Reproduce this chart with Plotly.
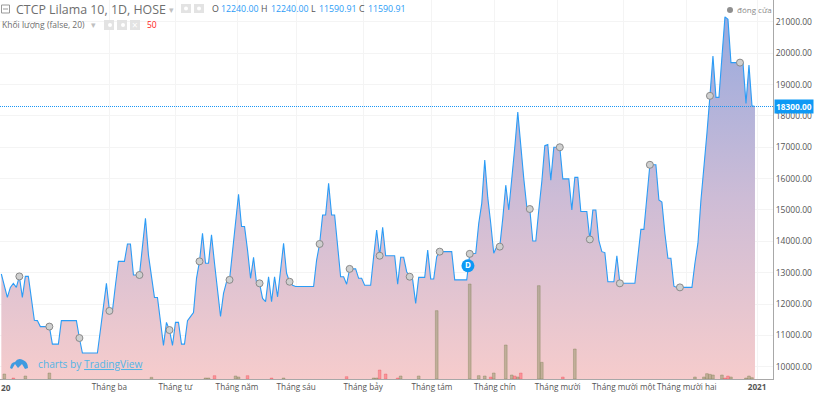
import plotly.graph_objects as go

# Daily closes, one per trading bar
close = [
 12957,12550,12210,12530,12660,12530,12880,12210,12880,12880,
 12130,11480,11470,11280,11280,11280,11280,10720,10720,10720,
 11470,11470,11470,11470,11470,11470,10915,10435,10435,10435,
 10435,10435,10435,11170,11900,12660,11780,11780,12600,13360,
 13360,13360,13915,13915,12925,12925,12925,13830,14735,13560,
 12870,12210,12210,11440,10680,11415,11170,10680,11415,11415,
 10720,10720,11470,11600,11730,12820,13360,14255,13300,13300,
 14210,13300,12390,11600,12340,12710,12770,13720,14680,15500,
 14470,14470,13720,12820,13490,12660,12660,12180,12075,12870,
 12075,12870,12230,13085,13935,12980,12710,12600,12560,12560,
 12560,12560,12560,12560,12560,13400,13915,14840,14840,15850,
 14840,14840,13830,12870,12870,12630,13120,13120,13120,12820,
 12820,12600,12600,12600,13510,14360,13540,14450,13540,13540,
 13540,13540,12630,13490,13490,13030,12870,12770,12020,12850,
 12850,12850,13720,12800,12800,13510,13670,13670,13670,13670,
 13670,12770,12770,12770,12770,12770,13600,13600,13620,14570,
 15210,16590,15400,14570,13620,13830,13830,14730,15790,15000,
 15900,17000,18120,17000,16000,15100,15030,14010,14010,15000,
 15900,17050,17090,15950,17000,17000,17000,15990,15990,15990,
 15000,16040,16040,14950,14950,14950,14060,15000,15000,14020,
 13670,13640,12710,12710,12710,13540,12660,12660,12660,12660,
 12660,12660,13510,14380,14380,15320,16440,16440,16440,15320,
 15250,14250,13460,13460,12570,12530,12530,12530,12530,12530,
 12530,13300,13940,15320,16270,17450,18640,19910,18590,18590,
 19890,21160,21080,19700,19700,19700,19700,19700,18400,19620,
 18320,18300,
]
bars = list(range(len(close)))
marked_bars = [6,16,26,36,46,56,66,76,86,96,106,116,126,136,146,156,166,176,186,196,206,216,226,236,246]

vol_down_bars = [1,8,16,50,68,69,78,79,94,124,125,133,139,145,156,159,161,164,168,170,172,179,180,191,231,234,235,236,237,240,243,248,249,250]
vol_down = [15,9,18,5,3,3,9,6,3,3,3,9,9,205,285,10,9,18,102,12,6,280,50,90,6,6,16,14,12,12,6,3,9,4]
vol_up_bars = [4,71,82,90,115,126,128,132,163,171,173,187,241,242]
vol_up = [3,10,10,3,7,27,15,3,6,9,18,6,3,9]

price_ticks = [10000,11000,12000,13000,14000,15000,16000,17000,18000,19000,20000,21000]
month_ticks = [36,58,78.5,98.2,120.5,143.4,164.4,185.3,207.3,228.3,251.7]
month_labels = ["Tháng ba","Tháng tư","Tháng năm","Tháng sáu","Tháng bảy","Tháng tám","Tháng chín",
                "Tháng mười","Tháng mười một","Tháng mười hai","<b>2021</b>"]
last_price = 18300

W, H = 818, 393
FONT = "Open Sans, sans-serif"
BLUE = "#2b9cf6"
BADGE = "#0d99f5"

fig = go.Figure()
fig.add_trace(go.Scatter(
    x=bars, y=close, mode="lines", line=dict(color=BLUE, width=1.1, shape="linear"),
    fill="tozeroy",
    fillgradient=dict(type="vertical", start=9608, stop=21160,
                      colorscale=[[0, "#f6cccc"], [0.5, "#cdbcd6"], [1, "#98aade"]]),
    hoverinfo="skip", showlegend=False))
for bx, bv, fc, lc in [(vol_down_bars, vol_down, "rgba(135,140,90,0.45)", "rgba(120,125,80,0.6)"),
                       (vol_up_bars, vol_up, "rgba(255,80,90,0.45)", "rgba(235,70,80,0.5)")]:
    fig.add_trace(go.Bar(x=bx, y=bv, yaxis="y2", width=0.9,
                         marker=dict(color=fc, line=dict(color=lc, width=0.6)),
                         hoverinfo="skip", showlegend=False))
fig.add_trace(go.Scatter(
    x=marked_bars, y=[close[i] for i in marked_bars], mode="markers",
    marker=dict(size=7, color="#cfcfcf", line=dict(color="#8a8a8a", width=1)),
    hoverinfo="skip", showlegend=False))
fig.add_trace(go.Scatter(
    x=[155.4], y=[13220], mode="markers+text", text=["<b>D</b>"], textposition="middle center",
    textfont=dict(color="white", size=8, family=FONT),
    marker=dict(size=13, color=BADGE), hoverinfo="skip", showlegend=False))

def px_x(v): return v / 773
def px_y(v): return 1 - v / 379

shapes = [dict(type="line", xref="paper", x0=0, x1=1, yref="y", y0=last_price, y1=last_price,
               line=dict(color="#1a96f5", width=1, dash="1px,1px"), layer="above")]
def box(x0, y0, x1, y1, fill="#e3e3e3", line="rgba(0,0,0,0)", kind="rect"):
    shapes.append(dict(type=kind, xref="paper", yref="paper",
                       x0=px_x(x0), x1=px_x(x1), y0=px_y(y1), y1=px_y(y0),
                       fillcolor=fill, line=dict(color=line, width=1), layer="above"))
# header icons
box(1.5, 5, 9.5, 13, fill="rgba(0,0,0,0)", line="#999999")
shapes.append(dict(type="line", xref="paper", yref="paper", x0=px_x(3), x1=px_x(8),
                   y0=px_y(9), y1=px_y(9), line=dict(color="#999999", width=1), layer="above"))
for a, b in [(181, 191), (194, 204)]:
    box(a, 4, b, 13)
    box(a + 3, 6.5, b - 3, 10.5, fill="white", kind="circle")
for a, b in [(104, 114), (117, 127), (130, 140)]:
    box(a, 20, b, 30)
for a in (105 + 3, 118 + 3):
    box(a, 23, a + 4, 27, fill="white", kind="circle")
# logo
shapes.append(dict(type="path", xref="paper", yref="paper", layer="above",
                   path=f"M {px_x(10)} {px_y(368)} Q {px_x(11)} {px_y(362)} {px_x(15)} {px_y(362)} "
                        f"Q {px_x(18)} {px_y(357)} {px_x(23)} {px_y(360)} Q {px_x(28)} {px_y(362)} {px_x(28)} {px_y(368)} "
                        f"L {px_x(25)} {px_y(369)} L {px_x(22)} {px_y(364)} L {px_x(18)} {px_y(368)} L {px_x(15)} {px_y(364)} L {px_x(12)} {px_y(369)} Z",
                   fillcolor="#3f9be0", line=dict(width=0)))
# legend dot
box(727, 7, 733, 13, fill="#8f8f8f", kind="circle")

anns = []
def label(x, y, text, size=9, color="#555555", anchor="left", **kw):
    anns.append(dict(xref="paper", yref="paper", x=px_x(x), y=px_y(y), text=text, showarrow=False,
                     xanchor=anchor, yanchor="middle", align=anchor, xshift=0, yshift=0,
                     font=dict(size=size, color=color, family=FONT), borderpad=0, **kw))

label(15, 9.5, "CTCP Lilama 10, 1D, HOSE", size=12.4, color="#6e6e6e")
label(168, 9.5, "▾", size=9, color="#c0c0c0")
for x, t, c in [(211, "O", "#555555"), (220, "12240.00", BLUE), (260, "H", "#555555"), (270, "12240.00", BLUE),
                (310, "L", "#555555"), (318, "11590.91", BLUE), (358, "C", "#555555"), (367, "11590.91", BLUE)]:
    label(x, 9.5, t, size=8.8, color=c)
label(1, 24, "Khối lượng (false, 20)", size=8.5, color="#6e6e6e")
label(90, 24, "▾", size=9, color="#c0c0c0")
label(135, 25, "×", size=10, color="white", anchor="center")
label(146, 24.5, "50", size=8.5, color="#ff2020")
label(736, 9.5, "đóng cửa", size=8, color="#8a8a8a")
label(37, 363.5, "charts by <u>TradingView</u>", size=10.2, color="#53b5e6")
label(0, 387, "<b>20</b>", size=8.3, color="#555555")
anns.append(dict(xref="paper", yref="y", x=(774) / 773, y=last_price, text="<b>18300.00</b>", showarrow=False,
                 xanchor="left", yanchor="middle", bgcolor=BADGE, borderpad=1,
                 font=dict(size=8.3, color="white", family=FONT)))

fig.update_layout(
    width=W, height=H, autosize=False,
    margin=dict(l=0, r=W - 773, t=0, b=H - 379, pad=0),
    paper_bgcolor="white", plot_bgcolor="white", barmode="overlay",
    shapes=shapes, annotations=anns, font=dict(family=FONT),
    xaxis=dict(range=[-0.443, 257], tickmode="array", tickvals=month_ticks, ticktext=month_labels,
               showgrid=True, gridcolor="#f4f4f4", gridwidth=1, zeroline=False,
               showline=True, linecolor="#a8a8a8", linewidth=1, ticks="", ticklen=0,
               tickangle=0, tickfont=dict(size=8.2, color="#555555", family=FONT)),
    yaxis=dict(range=[9608, 21697], side="right", tickmode="array", tickvals=price_ticks,
               ticktext=[f"{v:.2f}" for v in price_ticks],
               showgrid=True, gridcolor="#f4f4f4", gridwidth=1, zeroline=False,
               showline=True, linecolor="#a8a8a8", linewidth=1, ticks="",
               tickfont=dict(size=8.5, color="#555555", family=FONT)),
    yaxis2=dict(range=[0, 1137], overlaying="y", visible=False, fixedrange=True),
)
fig.write_html("out.html", config=dict(displayModeBar=False),
               post_script="document.body.style.margin='0';document.body.style.overflow='hidden';")
